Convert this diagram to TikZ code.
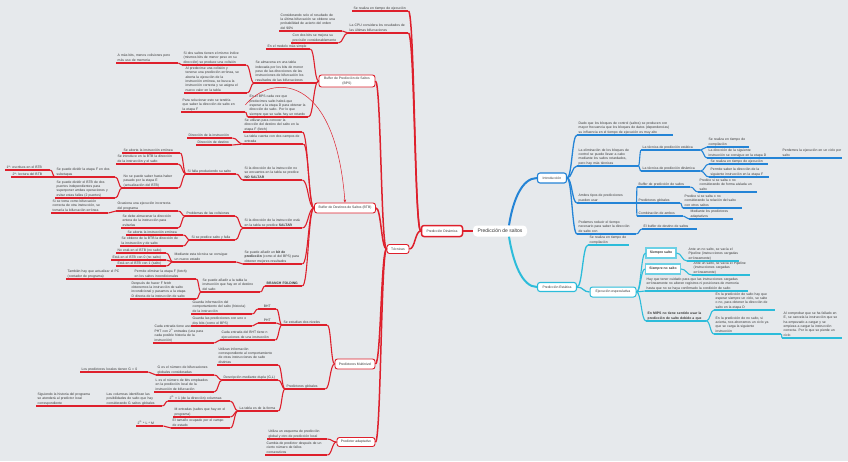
\documentclass[tikz,border=0pt]{standalone}
\usepackage{fontspec}
\setmainfont{Liberation Sans}
\usetikzlibrary{calc,arrows.meta}
\definecolor{bgc}{RGB}{230,233,236}
\definecolor{redc}{RGB}{222,32,44}
\definecolor{bluec}{RGB}{36,132,214}
\definecolor{cyanc}{RGB}{44,188,218}
\definecolor{txt}{RGB}{55,55,55}
\newcommand\mmfont{\fontsize{3.4}{4.3}\selectfont}
\newcommand\mmtn[6][]{\pgfmathsetmacro\mmw{#5-3}\node[tx,text width=\mmw pt,#1] (#2) at (#3,#4) {\begin{tabular}{@{}l@{}}#6\end{tabular}};}
\newcommand\mmcl[3][]{\draw[#1] let \p1=(#2), \p2=(#3) in (\p1) .. controls ({(\x1+\x2)/2},\y1) and ({(\x1+\x2)/2},\y2) .. (\p2);}
\newcommand\mmfan[3]{\foreach \mmc in {#3}{\mmcl[#1]{#2}{\mmc}}}
\begin{document}
\begin{tikzpicture}[x=1pt,y=-1pt,
  tx/.style={anchor=south west,inner xsep=1.5pt,inner ysep=0.5pt,align=left,font=\mmfont,text=txt},
  rbox/.style={draw=redc,line width=0.9pt,fill=white,rounded corners=2.5pt,font=\mmfont,text=txt,align=center,inner sep=1pt},
  bbox/.style={rbox,draw=bluec},
  cbox/.style={rbox,draw=cyanc},
  sbox/.style={draw=cyanc!70,line width=1.1pt,fill=white,font=\mmfont\bfseries,text=txt,inner sep=1pt},
  r0/.style={draw=redc,line width=2.2pt},
  r1/.style={draw=redc,line width=1.5pt},
  r2/.style={draw=redc,line width=1.1pt},
  b0/.style={draw=bluec,line width=2pt},
  b1/.style={draw=bluec,line width=1.3pt},
  b2/.style={draw=bluec,line width=1.1pt},
  c0/.style={draw=cyanc,line width=2pt},
  c1/.style={draw=cyanc,line width=1.3pt},
  c2/.style={draw=cyanc,line width=1.1pt},
  rel/.style={draw=redc,line width=0.5pt,-{Stealth[length=3pt,width=2.5pt]}}]
\useasboundingbox (0,0) rectangle (848,461);
\fill[bgc] (0,0) rectangle (848,461);

% ---------- boxes ----------
\node[fill=white,rounded corners=4pt,minimum width=54pt,minimum height=11pt,inner sep=1pt,font=\fontsize{5}{6}\selectfont,text=txt] (cen) at (500,231) {Predicción de saltos};
\node[rbox,line width=1.5pt,minimum width=41pt,minimum height=11pt] (pd) at (442,231) {Predicción Dinámica};
\node[rbox,minimum width=22pt,minimum height=9pt] (tec) at (398,249) {Técnicas};
\node[rbox,minimum width=56pt,minimum height=12pt] (bps) at (347,81) {Buffer de Predicción de Saltos\\(BPS)};
\node[rbox,minimum width=61pt,minimum height=10pt] (btb) at (345,208) {Buffer de Destinos de Saltos (BTB)};
\node[rbox,minimum width=40pt,minimum height=10pt] (mul) at (355,364) {Predictores Multinivel};
\node[rbox,minimum width=38pt,minimum height=9pt] (ada) at (356,442) {Predictor adaptativo};
\node[bbox,line width=1.1pt,minimum width=29pt,minimum height=10pt] (intro) at (552,178) {Introducción};
\node[cbox,line width=1.1pt,minimum width=39pt,minimum height=9pt] (est) at (557,287) {Predicción Estática};
\node[cbox,line width=1pt,minimum width=46pt,minimum height=10pt] (ee) at (613,292) {Ejecución especulativa};
\node[sbox,minimum width=30pt,minimum height=10pt] (es1) at (661,253) {Siempre salto};
\node[sbox,minimum width=35pt,minimum height=10pt] (es2) at (663,269) {Siempre no salto};

% ---------- red side ----------
\mmtn{r1}{352}{11}{56}{Se realiza en tiempo de ejecución}
\mmtn{r2}{348}{33}{60}{La CPU considera los resultados de\\las últimas bifurcaciones}
\mmtn{r3}{279}{31}{63}{Considerando solo el resultado de\\la última bifurcación se obtiene una\\probabilidad de acierto del orden\\del 90\%}
\mmtn{r4}{291}{43}{47}{Con dos bits se mejora su\\precisión considerablemente}
\mmtn{b1}{266}{49}{44}{En el modelo más simple}
\mmtn{b2}{254}{83}{62}{Se almacena en una tabla\\indexada por los bits de menor\\peso de las direcciones de las\\instrucciones de bifurcación los\\resultados de las bifurcaciones}
\mmtn{b3}{248}{117}{60}{En el BPS cada vez que\\predecimos salto habrá que\\esperar a la etapa D para obtener la\\dirección de salto. Por lo que\\siempre que se salta hay un retardo}
\mmtn{b4}{182}{65}{64}{Si dos saltos tienen el mismo índice\\(mismos bits de menor peso en su\\dirección) se produce una colisión}
\mmtn{b5}{184}{93}{63}{Al predecirse una colisión y\\tenerse una predicción errónea, se\\aborta la ejecución de la\\instrucción errónea, se busca la\\instrucción correcta y se asigna el\\nuevo valor en la tabla}
\mmtn{b6}{116}{63}{62}{A más bits, menos colisiones pero\\más uso de memoria}
\mmtn{b7}{181}{112}{64}{Para solucionar esto se tendría\\que saber la dirección de salto en\\la etapa F}
\mmtn{t1}{243}{132}{59}{Se utilizan para conocer la\\dirección del destino del salto en la\\etapa F (fetch)}
\mmtn{t2}{243}{144}{60}{La tabla cuenta con dos campos de\\entrada}
\mmtn{t3}{187}{138}{45}{Dirección de la instrucción}
\mmtn{t4}{196}{145}{36}{Dirección de destino}
\mmtn{t5}{243}{180}{59}{Si la dirección de la instrucción no\\se encuentra en la tabla se predice\\\textbf{NO SALTAR}}
\mmtn{t6}{186}{174}{50}{Si falla produciendo su salto}
\mmtn{t7}{122}{153}{58}{Se aborta la instrucción errónea}
\mmtn{t8}{116}{164}{62}{Se introduce en la BTB la dirección\\de la instrucción y el salto}
\mmtn{t9}{122}{188}{56}{No se puede saber hasta haber\\pasado por la etapa E\\(actualización del BTB)}
\mmtn{t10}{55}{177}{60}{Se puede dividir la etapa F en dos\\subetapas}
\mmtn{t11}{5}{170}{45}{1ª: escritura en el BTB}
\mmtn{t12}{11}{177}{39}{2ª: lectura del BTB}
\mmtn{t13}{55}{198}{60}{Se puede dividir el BTB de dos\\puertos independientes para\\superponer ambas operaciones y\\evitar estas fallas (2 puertos)}
\mmtn{t14}{243}{228}{59}{Si la dirección de la instrucción está\\en la tabla se predice \textbf{SALTAR}}
\mmtn{t15}{185}{216}{50}{Problemas de las colisiones}
\mmtn{t16}{190}{240}{45}{Si se predice salto y falla}
\mmtn{t17}{116}{211}{62}{Ocasiona una ejecución incorrecta\\del programa}
\mmtn{t18}{121}{228}{57}{Se debe almacenar la dirección\\entera de la instrucción para\\evitarlas}
\mmtn{t19}{51}{213}{57}{Si se toma como bifurcación\\correcta de otra instrucción, se\\tomaría la bifurcación errónea}
\mmtn{t20}{126}{235}{57}{Se aborta la instrucción errónea}
\mmtn{t21}{120}{246}{63}{Se obtiene de la BTB la dirección de\\la instrucción y de salto}
\mmtn{t22}{243}{264}{59}{Se puede añadir un \textbf{bit de}\\\textbf{predicción} (como el del BPS) para\\obtener mejores resultados}
\mmtn{t23}{173}{262}{63}{Mediante esta técnica se consigue\\un nuevo estado}
\mmtn{t24}{116}{253}{50}{No está en el BTB (no salto)}
\mmtn{t25}{111}{260}{55}{Está en el BTB con 0 (no salto)}
\mmtn{t26}{116}{266}{50}{Está en el BTB con 1 (salto)}
\mmtn{t27}{265}{286}{37}{\textbf{BRANCH FOLDING}}
\mmtn{t28}{201}{292}{59}{Se puede añadir a la tabla la\\instrucción que hay en el destino\\del salto}
\mmtn{t29}{133}{279}{63}{Permite eliminar la etapa F (fetch)\\en los saltos incondicionales}
\mmtn{t30}{130}{299}{66}{Después de hacer F fetch\\obtenemos la instrucción de salto\\incondicional y pasamos a la etapa\\D directa de la instrucción de salto}
\mmtn{t31}{66}{279}{62}{También hay que actualizar el PC\\(contador de programa)}
\mmtn{m1}{282}{325}{45}{Se estudian dos niveles}
\mmtn[align=center]{bht}{258}{309}{18}{BHT}
\mmtn[align=center]{pht}{258}{323}{18}{PHT}
\mmtn{m3}{191}{314}{61}{Guarda información del\\comportamiento del salto (historia)\\de la instrucción}
\mmtn{m4}{191}{326}{61}{Guarda las predicciones con uno o\\dos bits (como el BPS)}
\mmtn{m5}{220}{340}{55}{Cada entrada del BHT tiene n\\ejecuciones de una instrucción}
\mmtn{m6}{153}{343}{61}{Cada entrada tiene asociada una\\PHT con 2\textsuperscript{n} entradas (una para\\cada posible historia de la\\instrucción)}
\mmtn{m2}{285}{389}{40}{Predictores globales}
\mmtn{m7}{217}{365}{61}{Utilizan información\\correspondiente al comportamiento\\de otras instrucciones de salto\\distintas}
\mmtn{m8}{222}{380}{56}{Descripción mediante dupla (G,L)}
\mmtn{m9}{238}{411}{40}{La tabla es de la forma}
\mmtn{m10}{156}{375}{58}{G es el número de bifurcaciones\\globales consideradas}
\mmtn{m11}{154}{392}{60}{L es el número de bits empleados\\en la predicción local de la\\instrucción de bifurcación}
\mmtn{m12}{80}{372}{68}{Los predictores locales tienen G = 0}
\mmtn{m13}{168}{401}{62}{2\textsuperscript{G} × 1 (de la dirección) columnas}
\mmtn{m14}{173}{417}{57}{M entradas (saltos que hay en el\\programa)}
\mmtn{m15}{171}{428}{59}{El tamaño ocupado por el campo\\de estado}
\mmtn{m16}{105}{406}{57}{Las columnas identifican las\\posibilidades de salto que hay\\considerando G saltos globales}
\mmtn{m17}{36}{406}{64}{Siguiendo la historia del programa\\se atenderá al predictor local\\correspondiente}
\mmtn{m18}{136}{426}{27}{2\textsuperscript{G} * L * M}
\mmtn{a1}{267}{439}{60}{Utiliza un esquema de predicción\\global y otro de predicción local}
\mmtn{a2}{265}{455}{62}{Cambia de predictor después de un\\cierto número de fallos\\consecutivos}

% ---------- blue side ----------
\mmtn{i1}{577}{135}{96}{Dado que los bloques de control (saltos) se producen con\\mayor frecuencia que los bloques de datos (dependencias)\\su influencia en el tiempo de ejecución es muy alto}
\mmtn{i2}{577}{166}{61}{La eliminación de los bloques de\\control se puede llevar a cabo\\mediante los saltos retardados,\\pero hay más técnicas}
\mmtn{i3}{641}{150}{59}{La técnica de predicción estática}
\mmtn{i4}{641}{171}{59}{La técnica de predicción dinámica}
\mmtn{i5}{707}{147}{42}{Se realiza en tiempo de\\compilación}
\mmtn{i6}{707}{158}{73}{La dirección de la siguiente\\instrucción se consigue en la etapa D}
\mmtn{i7}{781}{158}{61}{Perdemos la ejecución en un ciclo por\\salto}
\mmtn{i8}{709}{164}{59}{Se realiza en tiempo de ejecución}
\mmtn{i9}{709}{177}{60}{Permite saber la dirección de la\\siguiente instrucción en la etapa F}
\mmtn{i10}{577}{203}{59}{Ambos tipos de predicciones\\pueden usar}
\mmtn{i11}{637}{187}{53}{Buffer de predicción de saltos}
\mmtn{i12}{637}{203}{43}{Predictores globales}
\mmtn{i13}{637}{216}{46}{Combinación de ambos}
\mmtn{i14}{698}{192}{59}{Predice si se salta o no\\considerando de forma aislada un\\salto}
\mmtn{i15}{683}{208}{59}{Predice si se salta o no\\considerando la relación del salto\\con otros saltos}
\mmtn{i16}{689}{219}{44}{Mediante los predictores\\adaptativos}
\mmtn{i17}{577}{234}{59}{Podemos reducir el tiempo\\necesario para saber la dirección\\de salto con}
\mmtn{i18}{642}{229}{55}{El buffer de destino de saltos}

% ---------- cyan side ----------
\mmtn{e1}{588}{245}{41}{Se realiza en tiempo de\\compilación}
\mmtn{es3}{645}{291}{103}{Hay que tener cuidado para que las instrucciones cargadas\\erróneamente no alteren registros ni posiciones de memoria\\hasta que no se haya confirmado la condición de salto}
\mmtn{es4}{646}{321}{60}{\textbf{En MIPS no tiene sentido usar la}\\\textbf{predicción de salto debido a que}}
\mmtn{es5}{687}{261}{52}{Ante un no salto, se vacía el\\Pipeline (instrucciones cargadas\\erróneamente)}
\mmtn{es6}{692}{275}{58}{Ante un salto, se vacía el Pipeline\\(instrucciones cargadas\\erróneamente)}
\mmtn{es7}{714}{310}{61}{En la predicción de salto hay que\\esperar siempre un ciclo, se salte\\o no, para obtener la dirección de\\salto en la etapa D}
\mmtn{es8}{714}{334}{67}{En la predicción de no salto, si\\acierta, nos ahorramos un ciclo ya\\que se carga la siguiente\\instrucción}
\mmtn{es9}{782}{338}{60}{Al comprobar que se ha fallado en\\E, se cancela la instrucción que se\\ha empezado a cargar y se\\empieza a cargar la instrucción\\correcta. Por lo que se pierde un\\ciclo}

% ---------- underlines ----------
\foreach \n in {r1,r2,r3,r4,b1,b2,b3,b4,b5,b6,b7,t1,t2,t3,t4,t5,t6,t7,t8,t9,t10,t11,t12,t13,t14,t15,t16,t17,t18,t19,t20,t21,t22,t23,t24,t25,t26,t27,t28,t29,t30,t31,m1,bht,pht,m3,m4,m5,m6,m2,m7,m8,m9,m10,m11,m12,m13,m14,m15,m16,m17,m18,a1,a2}
  \draw[r2] (\n.south west) -- (\n.south east);
\foreach \n in {i1,i2,i3,i4,i5,i6,i7,i8,i9,i10,i11,i12,i13,i14,i15,i16,i17,i18}
  \draw[b2] (\n.south west) -- (\n.south east);
\foreach \n in {e1,es3,es4,es5,es6,es7,es8,es9}
  \draw[c2] (\n.south west) -- (\n.south east);

% ---------- connectors red ----------
\draw[r0] (cen.west) -- (pd.east);
\mmfan{r1}{pd.west}{tec.east,r1.south east,r2.south east}
\mmfan{r1}{tec.west}{bps.east,btb.east,mul.east,ada.east}
\mmfan{r2}{r2.south west}{r3.south east,r4.south east}
\mmfan{r2}{bps.west}{b1.south east,b2.south east,b3.south east}
\mmfan{r2}{b2.south west}{b4.south east,b5.south east}
\mmfan{r2}{b4.south west}{b6.south east}
\mmfan{r2}{b3.south west}{b7.south east}
\mmfan{r2}{btb.west}{t1.south east,t2.south east,t5.south east,t14.south east,t22.south east,t27.south east}
\mmfan{r2}{t2.south west}{t3.south east,t4.south east}
\mmfan{r2}{t5.south west}{t6.south east}
\mmfan{r2}{t6.south west}{t7.south east,t8.south east,t9.south east}
\mmfan{r2}{t9.south west}{t10.south east,t13.south east}
\mmfan{r2}{t10.south west}{t11.south east,t12.south east}
\mmfan{r2}{t14.south west}{t15.south east,t16.south east}
\mmfan{r2}{t15.south west}{t17.south east,t18.south east}
\mmfan{r2}{t17.south west}{t19.south east}
\mmfan{r2}{t16.south west}{t20.south east,t21.south east}
\mmfan{r2}{t22.south west}{t23.south east}
\mmfan{r2}{t23.south west}{t24.south east,t25.south east,t26.south east}
\mmfan{r2}{t27.south west}{t28.south east}
\mmfan{r2}{t28.south west}{t29.south east,t30.south east}
\mmfan{r2}{t29.south west}{t31.south east}
\mmfan{r2}{mul.west}{m1.south east,m2.south east}
\mmfan{r2}{m1.south west}{bht.south east,pht.south east,m5.south east}
\mmfan{r2}{bht.south west}{m3.south east}
\mmfan{r2}{pht.south west}{m4.south east}
\mmfan{r2}{m5.south west}{m6.south east}
\mmfan{r2}{m2.south west}{m7.south east,m8.south east,m9.south east}
\mmfan{r2}{m8.south west}{m10.south east,m11.south east}
\mmfan{r2}{m10.south west}{m12.south east}
\mmfan{r2}{m9.south west}{m13.south east,m14.south east,m15.south east}
\mmfan{r2}{m13.south west}{m16.south east}
\mmfan{r2}{m16.south west}{m17.south east}
\mmfan{r2}{m15.south west}{m18.south east}
\mmfan{r2}{ada.west}{a1.south east,a2.south east}
\draw[rel] (b7.east) .. controls (270,75) and (335,70) .. (btb.north);

% ---------- connectors blue ----------
\draw[b0] ([xshift=9pt]cen.north) .. controls (513,200) and (522,178) .. (intro.west);
\mmfan{b1}{intro.east}{i1.south west,i2.south west,i10.south west,i17.south west}
\mmfan{b2}{i2.south east}{i3.south west,i4.south west}
\mmfan{b2}{i3.south east}{i5.south west,i6.south west}
\mmfan{b2}{i6.south east}{i7.south west}
\mmfan{b2}{i4.south east}{i8.south west,i9.south west}
\mmfan{b2}{i10.south east}{i11.south west,i12.south west,i13.south west}
\mmfan{b2}{i11.south east}{i14.south west}
\mmfan{b2}{i12.south east}{i15.south west}
\mmfan{b2}{i13.south east}{i16.south west}
\mmfan{b2}{i17.south east}{i18.south west}

% ---------- connectors cyan ----------
\draw[c0] ([xshift=9pt]cen.south) .. controls (513,262) and (522,287) .. (est.west);
\mmfan{c1}{est.east}{e1.south west,ee.west}
\mmfan{c2}{ee.east}{es1.west,es2.west,es3.south west,es4.south west}
\mmfan{c2}{es1.east}{es5.south west}
\mmfan{c2}{es2.east}{es6.south west}
\mmfan{c2}{es4.south east}{es7.south west,es8.south west}
\mmfan{c2}{es8.south east}{es9.south west}
\end{tikzpicture}
\end{document}
